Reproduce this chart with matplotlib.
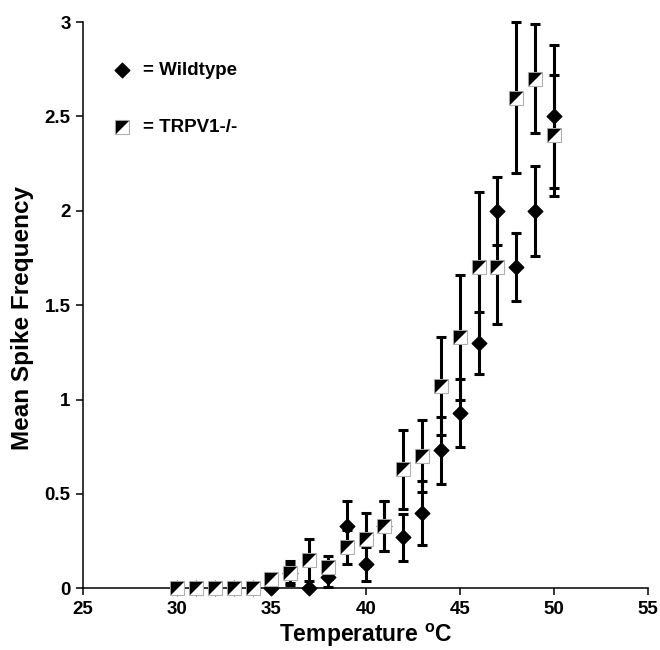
import matplotlib
matplotlib.use("Agg")
import matplotlib.pyplot as plt
from matplotlib.path import Path
from matplotlib.ticker import FormatStrFormatter

# Temperature steps (deg C)
temps = list(range(30, 51))

# Wildtype: mean spike frequency and SEM
wt_mean = [0, 0, 0, 0, 0, 0, 0.08, 0, 0.06, 0.33, 0.13, 0.33, 0.27, 0.40,
           0.73, 0.93, 1.30, 2.00, 1.70, 2.00, 2.50]
wt_err = [0, 0, 0, 0, 0, 0, 0.05, 0, 0.055, 0.13, 0.09, 0.13, 0.125, 0.17,
          0.18, 0.18, 0.165, 0.18, 0.18, 0.24, 0.38]

# TRPV1-/-: mean spike frequency and SEM
ko_mean = [0, 0, 0, 0, 0, 0.05, 0.08, 0.15, 0.11, 0.22, 0.26, 0.33, 0.63, 0.70,
           1.07, 1.33, 1.70, 1.70, 2.60, 2.70, 2.40]
ko_err = [0, 0, 0, 0, 0, 0, 0.065, 0.11, 0.06, 0.09, 0.14, 0.13, 0.21, 0.19,
          0.26, 0.33, 0.40, 0.30, 0.40, 0.29, 0.32]

plt.rcParams["font.family"] = ["Liberation Sans", "DejaVu Sans"]
plt.rcParams["font.weight"] = "bold"
plt.rcParams["mathtext.fontset"] = "custom"
plt.rcParams["mathtext.bf"] = "Liberation Sans:bold"
plt.rcParams["mathtext.rm"] = "Liberation Sans:bold"

# marker shapes
diamond = Path([(0, 1), (1, 0), (0, -1), (-1, 0), (0, 1)],
               [Path.MOVETO, Path.LINETO, Path.LINETO, Path.LINETO, Path.CLOSEPOLY])
half_tri = Path([(-1, 1), (1, 1), (-1, -1), (-1, 1)],
                [Path.MOVETO, Path.LINETO, Path.LINETO, Path.CLOSEPOLY])

fig = plt.figure(figsize=(6.6, 6.5), dpi=100)
ax = fig.add_axes([0.126, 0.095, 0.856, 0.871])

eb_style = dict(fmt="none", ecolor="black", elinewidth=2.2, capsize=3.6,
                capthick=2.2, zorder=2, clip_on=False)
ax.errorbar(temps, wt_mean, yerr=wt_err, **eb_style)
ax.errorbar(temps, ko_mean, yerr=ko_err, **eb_style)

ax.plot(temps, wt_mean, linestyle="none", marker=diamond, ms=10.5,
        color="black", zorder=3, clip_on=False)
ax.plot(temps, ko_mean, linestyle="none", marker="s", ms=9.5,
        mfc="white", mec="#b0b0b0", mew=0.8, zorder=4, clip_on=False)
ax.plot(temps, ko_mean, linestyle="none", marker=half_tri, ms=9.5,
        mfc="black", mec="none", zorder=5, clip_on=False)

# legend drawn by hand, like the original
ax.plot([0.069], [0.915], transform=ax.transAxes, marker=diamond, ms=10.5,
        color="black", clip_on=False)
ax.plot([0.069], [0.814], transform=ax.transAxes, marker="s", ms=9.5,
        mfc="white", mec="#b0b0b0", mew=0.8, clip_on=False)
ax.plot([0.069], [0.814], transform=ax.transAxes, marker=half_tri, ms=9.5,
        mfc="black", mec="none", clip_on=False)
ax.text(0.106, 0.915, "= Wildtype", transform=ax.transAxes, fontsize=13.5,
        fontweight="bold", va="center")
ax.text(0.106, 0.814, "= TRPV1-/-", transform=ax.transAxes, fontsize=13.5,
        fontweight="bold", va="center")

ax.set_xlim(25, 55)
ax.set_ylim(0, 3)
ax.set_xticks(range(25, 56, 5))
ax.set_yticks([0, 0.5, 1, 1.5, 2, 2.5, 3])
ax.yaxis.set_major_formatter(FormatStrFormatter("%g"))
ax.spines["top"].set_visible(False)
ax.spines["right"].set_visible(False)
for s in ("left", "bottom"):
    ax.spines[s].set_linewidth(1.1)
ax.tick_params(direction="out", length=5, width=1.1, labelsize=13.5, pad=4)
for lab in ax.get_xticklabels() + ax.get_yticklabels():
    lab.set_fontweight("bold")

ax.set_xlabel(r"Temperature $^{\mathbf{o}}$C", fontsize=16.5, fontweight="bold",
              labelpad=3)
ax.set_ylabel("Mean Spike Frequency", fontsize=17.5, fontweight="bold")
ax.yaxis.set_label_coords(-0.087, 0.477)

fig.savefig("out.png", dpi=100)
